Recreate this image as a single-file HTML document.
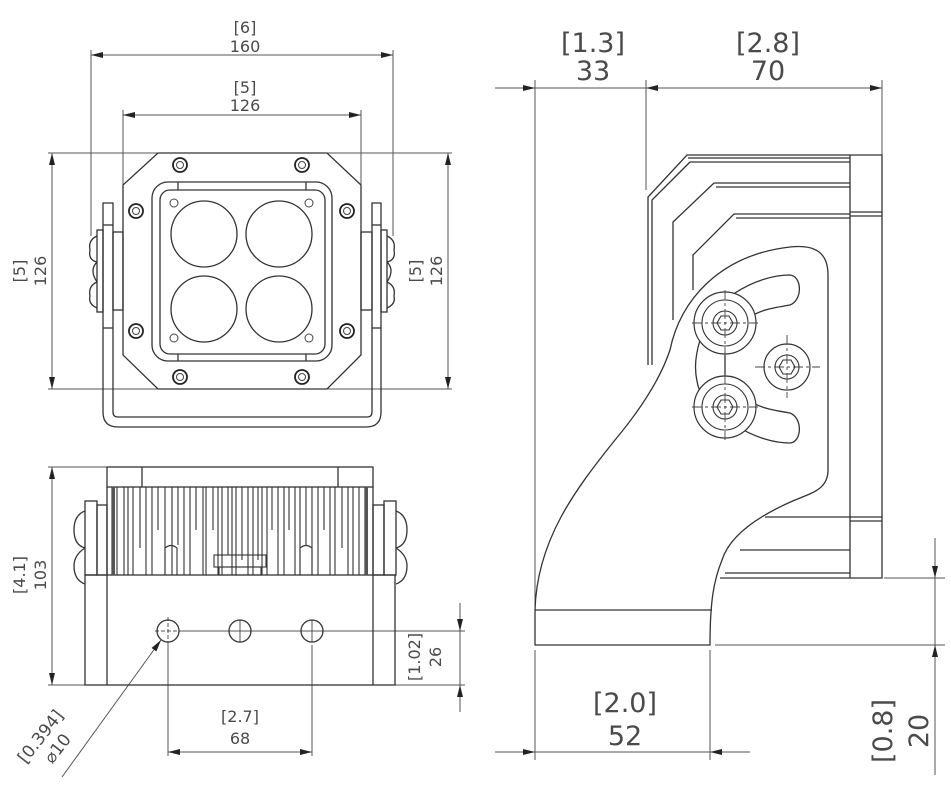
<!DOCTYPE html>
<html><head><meta charset="utf-8"><style>
html,body{margin:0;padding:0;background:#fff;width:951px;height:785px;overflow:hidden}
svg{display:block}
text{font-family:"DejaVu Sans","Liberation Sans",sans-serif;fill:#4a4a4a}
</style></head><body>
<svg width="951" height="785" viewBox="0 0 951 785" xmlns="http://www.w3.org/2000/svg">
<defs>
<marker id="a" viewBox="0 0 12 6" refX="12" refY="3" markerWidth="12" markerHeight="6" orient="auto-start-reverse" markerUnits="userSpaceOnUse"><path d="M0,0 L12,3 L0,6 z" fill="#222"/></marker>
</defs>
<g stroke="#555" stroke-width="1" fill="none">
<line x1="91" y1="55" x2="393" y2="55" marker-start="url(#a)" marker-end="url(#a)"/>
<line x1="91" y1="50" x2="91" y2="236"/><line x1="393" y1="50" x2="393" y2="236"/>
<line x1="123" y1="115" x2="361" y2="115" marker-start="url(#a)" marker-end="url(#a)"/>
<line x1="123" y1="110" x2="123" y2="185"/><line x1="361" y1="110" x2="361" y2="185"/>
<line x1="52" y1="153" x2="52" y2="389" marker-start="url(#a)" marker-end="url(#a)"/>
<line x1="48" y1="153" x2="158" y2="153"/><line x1="48" y1="389" x2="158" y2="389"/>
<line x1="448" y1="153" x2="448" y2="389" marker-start="url(#a)" marker-end="url(#a)"/>
<line x1="327" y1="153" x2="452" y2="153"/><line x1="327" y1="389" x2="452" y2="389"/>
</g>
<g stroke="#333" stroke-width="1.3" fill="none">
<path d="M103,203 L113,203 L113,412 Q113,417 118,417 L367,417 Q372,417 372,412 L372,203 L381,203 L381,412 Q381,427 366,427 L118,427 Q103,427 103,412 Z"/>
<line x1="103" y1="225" x2="113" y2="225"/><line x1="372" y1="225" x2="381" y2="225"/>
<line x1="103" y1="328" x2="113" y2="328"/><line x1="372" y1="328" x2="381" y2="328"/>
<rect x="113" y="232" width="10" height="78"/><rect x="361" y="232" width="11" height="78"/>
<rect x="97" y="230" width="6" height="82"/><rect x="381" y="230" width="6" height="82"/>
<path d="M97,236 Q88,240 90,250 Q88,260 97,262"/><path d="M97,262 Q89,270 97,282"/><path d="M97,282 Q88,286 90,296 Q88,304 97,308"/>
<path d="M387,236 Q396,240 394,250 Q396,260 387,262"/><path d="M387,262 Q395,270 387,282"/><path d="M387,282 Q396,286 394,296 Q396,304 387,308"/>
<path d="M158,153 L327,153 L361,185 L361,355 L327,389 L158,389 L123,355 L123,185 Z"/>
<rect x="152" y="182" width="180" height="179" rx="16"/>
<rect x="160" y="190" width="165" height="164" rx="10"/>
<line x1="178" y1="182" x2="178" y2="190"/><line x1="306" y1="182" x2="306" y2="190"/>
<line x1="178" y1="354" x2="178" y2="361"/><line x1="306" y1="354" x2="306" y2="361"/>
<circle cx="204" cy="234" r="33"/><circle cx="279" cy="234" r="33"/>
<circle cx="204" cy="309" r="33"/><circle cx="279" cy="309" r="33"/>
</g>
<g stroke="#222" stroke-width="1.8" fill="none">
<circle cx="180" cy="165" r="7"/><circle cx="302" cy="165" r="7"/>
<circle cx="136" cy="211" r="7"/><circle cx="347" cy="211" r="7"/>
<circle cx="136" cy="331" r="7"/><circle cx="347" cy="331" r="7"/>
<circle cx="180" cy="377" r="7"/><circle cx="302" cy="377" r="7"/>
</g>
<g stroke="#444" stroke-width="1" fill="none">
<circle cx="180" cy="165" r="3.5"/><circle cx="302" cy="165" r="3.5"/>
<circle cx="136" cy="211" r="3.5"/><circle cx="347" cy="211" r="3.5"/>
<circle cx="136" cy="331" r="3.5"/><circle cx="347" cy="331" r="3.5"/>
<circle cx="180" cy="377" r="3.5"/><circle cx="302" cy="377" r="3.5"/>
<circle cx="174" cy="203" r="4"/><circle cx="309" cy="203" r="4"/>
<circle cx="174" cy="338" r="4"/><circle cx="309" cy="338" r="4"/>
</g>
<text x="245" y="33" font-size="16" text-anchor="middle">[6]</text>
<text x="245" y="52" font-size="16" text-anchor="middle">160</text>
<text x="245" y="93" font-size="16" text-anchor="middle">[5]</text>
<text x="245" y="111" font-size="16" text-anchor="middle">126</text>
<text transform="translate(25,271) rotate(-90)" font-size="16" text-anchor="middle">[5]</text>
<text transform="translate(46,271) rotate(-90)" font-size="16" text-anchor="middle">126</text>
<text transform="translate(421,271) rotate(-90)" font-size="16" text-anchor="middle">[5]</text>
<text transform="translate(442,271) rotate(-90)" font-size="16" text-anchor="middle">126</text>

<g stroke="#555" stroke-width="1" fill="none">
<line x1="52" y1="467" x2="52" y2="685" marker-start="url(#a)" marker-end="url(#a)"/>
<line x1="48" y1="467" x2="107" y2="467"/><line x1="48" y1="685" x2="85" y2="685"/>
<line x1="460" y1="603" x2="460" y2="631" marker-end="url(#a)"/>
<line x1="460" y1="712" x2="460" y2="685" marker-end="url(#a)"/>
<line x1="460" y1="631" x2="460" y2="685"/>
<line x1="180" y1="631" x2="465" y2="631"/><line x1="395" y1="685" x2="465" y2="685"/>
<line x1="168" y1="752" x2="312" y2="752" marker-start="url(#a)" marker-end="url(#a)"/>
<line x1="168" y1="645" x2="168" y2="756"/><line x1="312" y1="645" x2="312" y2="756"/>
<line x1="62" y1="777" x2="161" y2="640" marker-end="url(#a)"/>
<line x1="168" y1="617" x2="168" y2="645" stroke-dasharray="4,2"/><line x1="155" y1="631" x2="181" y2="631" stroke-dasharray="4,2"/>
<line x1="240" y1="620" x2="240" y2="642"/><line x1="312" y1="620" x2="312" y2="642"/>
</g>
<g stroke="#333" stroke-width="1.3" fill="none">
<rect x="107" y="467" width="266" height="20"/>
<line x1="142" y1="467" x2="142" y2="487"/><line x1="338" y1="467" x2="338" y2="487"/>
<rect x="85" y="575" width="310" height="110"/>
<line x1="107" y1="575" x2="107" y2="685"/><line x1="373" y1="575" x2="373" y2="685"/>
<line x1="107" y1="487" x2="107" y2="575"/><line x1="373" y1="487" x2="373" y2="575"/>
<circle cx="168" cy="631" r="11"/><circle cx="240" cy="631" r="11"/><circle cx="312" cy="631" r="11"/>
<rect x="85" y="501" width="12" height="74"/><rect x="97" y="505" width="10" height="70"/>
<path d="M85,511 Q74,515 74,530 Q74,545 85,548"/><path d="M85,548 Q74,555 74,566 Q74,580 85,584"/>
<rect x="384" y="501" width="12" height="74"/><rect x="373" y="505" width="11" height="70"/>
<path d="M396,511 Q407,515 407,530 Q407,545 396,548"/><path d="M396,548 Q407,555 407,566 Q407,580 396,584"/>
</g>
<g stroke="#333" stroke-width="1.1" fill="none">
<path d="M112,487V575M117,487V575M124,487V575M128,487V575M133,487V575M140,487V548M146,487V575M152,487V575M158,487V530M165,487V575M172,487V575M178,487V545M184,487V575M190,487V575M196,487V530M203,487V575M206,487V575M213,487V530M218,487V575M222,487V575M228,487V555M232,487V575M236,487V575M242,487V560M248,487V575M253,487V575M258,487V560M262,487V575M267,487V575M272,487V530M278,487V575M284,487V575M289,487V530M295,487V575M300,487V575M306,487V545M312,487V575M318,487V575M324,487V530M330,487V575M335,487V575M342,487V548M348,487V575M353,487V575M359,487V575M365,487V575"/>
<path d="M165,575V548Q171,543 177,548V575"/><path d="M300,575V548Q306,543 312,548V575"/>
<rect x="214" y="555" width="52" height="12"/><rect x="219" y="567" width="42" height="8"/>
</g>
<rect x="112" y="487" width="3" height="88" fill="#555"/>
<rect x="365" y="487" width="3" height="88" fill="#555"/>
<text x="240" y="722" font-size="16" text-anchor="middle">[2.7]</text>
<text x="240" y="744" font-size="16" text-anchor="middle">68</text>
<text transform="translate(420,657) rotate(-90)" font-size="16" text-anchor="middle">[1.02]</text>
<text transform="translate(441,657) rotate(-90)" font-size="16" text-anchor="middle">26</text>
<text transform="translate(25,575) rotate(-90)" font-size="16" text-anchor="middle">[4.1]</text>
<text transform="translate(46,575) rotate(-90)" font-size="16" text-anchor="middle">103</text>
<text transform="translate(45,740) rotate(-52)" font-size="17" text-anchor="middle">[0.394]</text>
<text transform="translate(62,752) rotate(-52)" font-size="17" text-anchor="middle">⌀10</text>

<g stroke="#555" stroke-width="1" fill="none">
<line x1="495" y1="88" x2="535" y2="88" marker-end="url(#a)"/>
<line x1="535" y1="88" x2="646" y2="88"/>
<line x1="646" y1="88" x2="882" y2="88" marker-start="url(#a)" marker-end="url(#a)"/>
<line x1="535" y1="80" x2="535" y2="645"/>
<line x1="646" y1="80" x2="646" y2="190"/>
<line x1="882" y1="80" x2="882" y2="155"/>
<line x1="495" y1="752" x2="535" y2="752" marker-end="url(#a)"/>
<line x1="535" y1="752" x2="710" y2="752"/>
<line x1="750" y1="752" x2="710" y2="752" marker-end="url(#a)"/>
<line x1="535" y1="650" x2="535" y2="760"/><line x1="710" y1="650" x2="710" y2="760"/>
<line x1="935" y1="538" x2="935" y2="578" marker-end="url(#a)"/>
<line x1="935" y1="578" x2="935" y2="645"/>
<line x1="935" y1="775" x2="935" y2="645" marker-end="url(#a)"/>
<line x1="884" y1="578" x2="945" y2="578"/><line x1="715" y1="645" x2="945" y2="645"/>
</g>
<g stroke="#333" stroke-width="1.3" fill="none">
<path d="M648,365 L648,197 L687,155 L882,155 L882,578 L720,578"/>
<path d="M652,365 L652,200 L690,162"/>
<line x1="690" y1="162" x2="850" y2="162"/><line x1="688" y1="158" x2="850" y2="158"/>
<line x1="850" y1="155" x2="850" y2="578"/>
<line x1="850" y1="212" x2="882" y2="212"/><line x1="850" y1="216" x2="882" y2="216"/>
<line x1="850" y1="517" x2="882" y2="517"/><line x1="850" y1="521" x2="882" y2="521"/>
<path d="M673,320 L673,222 L714,183 L850,183"/><line x1="716" y1="187" x2="850" y2="187"/>
<path d="M693,290 L693,255 L734,214 L850,214"/><line x1="736" y1="218" x2="850" y2="218"/>
<line x1="765" y1="517" x2="850" y2="517"/><line x1="740" y1="550" x2="850" y2="550"/>
<line x1="725" y1="573" x2="850" y2="573"/>
<path d="M535,645 L535,610 C537,540 575,490 615,440 C640,410 660,380 670,350 C680,300 720,255 790,247 C818,244 828,255 828,275 L828,470 C828,488 815,492 795,500 C760,515 730,535 722,560 C714,580 710,600 710,645 Z" fill="#fff"/>
<line x1="535" y1="610" x2="712" y2="610"/>
<path d="M735,293 C755,280 775,275 790,275 C802,276 803,300 790,305 C772,308 760,310 748,318" fill="#fff"/>
<path d="M735,425 C755,438 775,443 790,443 C802,442 803,418 790,413 C772,410 760,408 748,400" fill="#fff"/>
<path d="M700,340 C694,360 694,375 700,392"/>
<line x1="725" y1="355" x2="725" y2="376"/>
</g>
<g stroke="#333" stroke-width="1.2" fill="#fff">
<circle cx="725" cy="323" r="31"/><circle cx="725" cy="407" r="31"/><circle cx="787" cy="367" r="23"/>
</g>
<g stroke="#333" stroke-width="1.1" fill="none">
<circle cx="725" cy="323" r="23"/><circle cx="725" cy="407" r="23"/>
<circle cx="725" cy="323" r="12"/><circle cx="725" cy="407" r="12"/><circle cx="787" cy="367" r="12"/>
<polygon points="733,323 729,330 721,330 717,323 721,316 729,316"/>
<polygon points="733,407 729,414 721,414 717,407 721,400 729,400"/>
<polygon points="795,367 791,374 783,374 779,367 783,360 791,360"/>
<path d="M692,323H758M725,290V356M692,407H758M725,374V440M755,367H820M787,335V398" stroke="#444" stroke-width="0.9" stroke-dasharray="10,3,3,3"/>
</g>
<text x="593" y="52" font-size="27" text-anchor="middle">[1.3]</text>
<text x="593" y="80" font-size="27" text-anchor="middle">33</text>
<text x="768" y="52" font-size="27" text-anchor="middle">[2.8]</text>
<text x="768" y="80" font-size="27" text-anchor="middle">70</text>
<text x="625" y="712" font-size="27" text-anchor="middle">[2.0]</text>
<text x="625" y="745" font-size="27" text-anchor="middle">52</text>
<text transform="translate(892,731) rotate(-90)" font-size="27" text-anchor="middle">[0.8]</text>
<text transform="translate(928,731) rotate(-90)" font-size="27" text-anchor="middle">20</text>
</svg>
</body></html>
